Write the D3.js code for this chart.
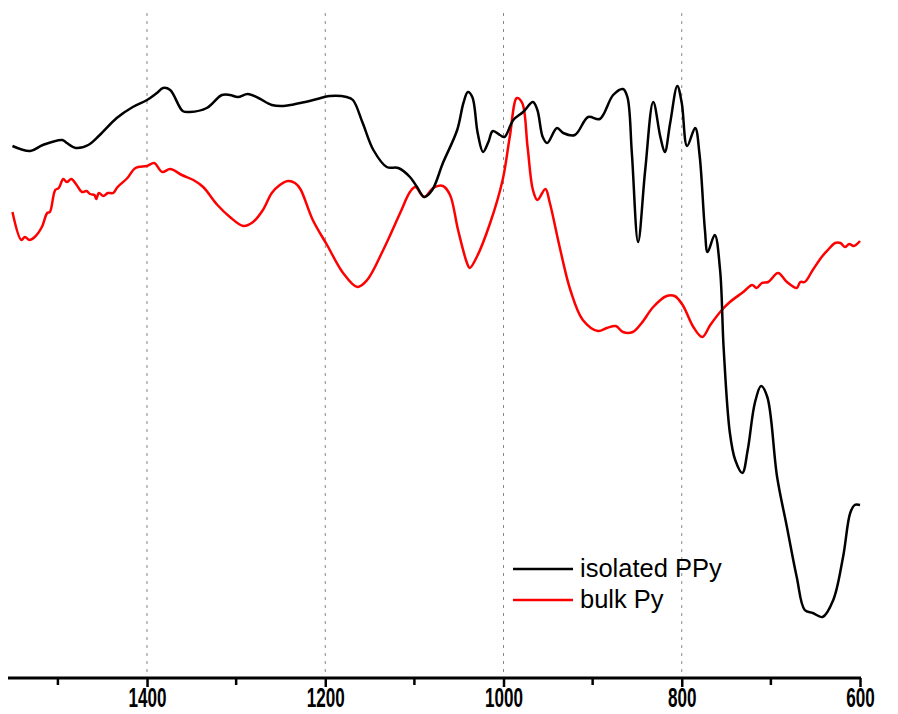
<!DOCTYPE html>
<html>
<head>
<meta charset="utf-8">
<script src="https://cdn.jsdelivr.net/npm/d3@7"></script>
<style>
  body { margin: 0; background: #fff; }
  svg { display: block; }
</style>
</head>
<body>
<div id="chart"></div>
<script>
// IR spectra, wavenumber (cm-1) vs transmittance (arbitrary units)
var wnIsolated = [1551,1531,1517,1495,1490,1480,1466,1453,1434,1416,1400,1389,1382,1374,1360,1352,1333,1316,1307,1298,1287,1275,1260,1247,1228,1209,1195,1176,1169,1158,1146,1131,1118,1105,1097,1089,1080,1068,1052,1045,1040,1035,1029,1023,1017,1012,1004,999,989,978,967,962,956,951,940,933,920,905,892,877,866,861,856,849,841,832,824,819,813,805,800,794,785,780,774,771,763,757,753,746,740,732,726,718,711,704,693,682,671,662,653,642,630,619,611,606,600];
var tIsolated = [532,527,533,538,535,530,533,543,560,571,578,585,590,588,567,566,570,583,583,581,584,580,573,572,575,579,582,581,578,555,528,511,510,501,491,481,488,515,548,575,586,581,545,526,536,547,543,541,558,566,576,568,541,535,550,545,543,561,559,583,589,581,525,436,508,576,541,526,555,592,575,532,550,523,448,426,443,408,330,245,218,205,228,275,292,281,201,151,101,68,65,61,78,121,165,173,173];

var wnBulk = [1551,1541,1537,1532,1526,1518,1512,1509,1503,1499,1494,1490,1485,1479,1473,1468,1464,1459,1457,1454,1449,1444,1438,1433,1422,1413,1400,1392,1383,1374,1361,1348,1337,1321,1307,1292,1281,1270,1260,1251,1242,1234,1228,1214,1198,1180,1164,1153,1135,1116,1105,1099,1089,1079,1068,1060,1051,1041,1038,1030,1015,1001,993,985,979,973,967,962,953,948,937,925,911,894,884,874,866,855,845,832,817,808,799,787,777,768,755,746,731,721,716,710,703,692,682,671,667,662,653,643,636,628,622,617,612,607,600];
var tBulk = [466,438,441,438,441,451,465,466,488,490,499,496,499,493,486,487,484,483,479,485,482,485,485,491,500,510,512,515,506,509,503,498,491,473,461,452,456,468,485,493,497,495,489,458,433,405,391,398,428,465,486,491,481,490,492,483,448,415,410,421,455,498,541,580,575,531,488,478,489,475,431,388,358,347,350,352,346,346,355,371,382,382,373,351,341,353,368,376,386,393,390,395,396,405,396,390,396,396,408,421,428,435,435,431,434,432,437];

var majorTicks = [1400, 1200, 1000, 800, 600];
var minorTicks = [1500, 1300, 1100, 900, 700];
var seriesNames = ["isolated PPy", "bulk Py"];

var W = 898, H = 714;
var x = d3.scaleLinear().domain([1556, 600]).range([8, 860]);
var y = d3.scaleLinear().domain([0, 666]).range([678, 12]);

var svg = d3.select("#chart").append("svg")
    .attr("width", W)
    .attr("height", H);

// dotted grid at major ticks
svg.append("g")
    .selectAll("line")
    .data(majorTicks.slice(0, 4))
  .enter().append("line")
    .attr("x1", function(d) { return x(d); })
    .attr("x2", function(d) { return x(d); })
    .attr("y1", 13)
    .attr("y2", 676)
    .attr("stroke", "#888")
    .attr("stroke-width", 1)
    .attr("stroke-dasharray", "3,5");

var line = d3.line()
    .x(function(d) { return x(d[0]); })
    .y(function(d) { return y(d[1]); })
    .curve(d3.curveCatmullRom.alpha(0.5));

svg.append("path")
    .datum(d3.zip(wnBulk, tBulk))
    .attr("fill", "none")
    .attr("stroke", "#ff0000")
    .attr("stroke-width", 2.5)
    .attr("stroke-linejoin", "round")
    .attr("d", line);

svg.append("path")
    .datum(d3.zip(wnIsolated, tIsolated))
    .attr("fill", "none")
    .attr("stroke", "#000")
    .attr("stroke-width", 2.5)
    .attr("stroke-linejoin", "round")
    .attr("d", line);

// bottom axis
var xAxis = d3.axisBottom(x)
    .tickValues(majorTicks)
    .tickSize(9)
    .tickSizeOuter(0)
    .tickFormat(d3.format("d"));

var gx = svg.append("g")
    .attr("transform", "translate(0,678)")
    .call(xAxis);

gx.select(".domain")
    .attr("stroke-width", 3)
    .attr("d", "M" + x(1556) + ",0H" + (x(600) + 1));
gx.selectAll(".tick line").attr("stroke-width", 2.5);
gx.selectAll(".tick text")
    .attr("y", 9)
    .attr("dy", "0.71em")
    .attr("font-family", "Liberation Sans, Arial, sans-serif")
    .attr("font-weight", "bold")
    .attr("font-size", 28)
    .attr("fill", "#000")
    .attr("textLength", function(d) { return String(d).length * 9.5; })
    .attr("lengthAdjust", "spacingAndGlyphs");

svg.append("g")
    .attr("transform", "translate(0,678)")
    .selectAll("line")
    .data(minorTicks)
  .enter().append("line")
    .attr("x1", function(d) { return x(d); })
    .attr("x2", function(d) { return x(d); })
    .attr("y1", 0)
    .attr("y2", 7)
    .attr("stroke", "#000")
    .attr("stroke-width", 2.5);

// legend
var legend = svg.append("g")
    .attr("transform", "translate(513,569)");
var colors = ["#000", "#ff0000"];
seriesNames.forEach(function(name, i) {
    legend.append("line")
        .attr("x1", 0).attr("x2", 60)
        .attr("y1", i * 31).attr("y2", i * 31)
        .attr("stroke", colors[i])
        .attr("stroke-width", 2.5);
    legend.append("text")
        .attr("x", 67)
        .attr("y", i * 31 + 8)
        .attr("font-family", "Liberation Sans, Arial, sans-serif")
        .attr("font-size", 25.5)
        .attr("fill", "#000")
        .text(name);
});
</script>
</body>
</html>
